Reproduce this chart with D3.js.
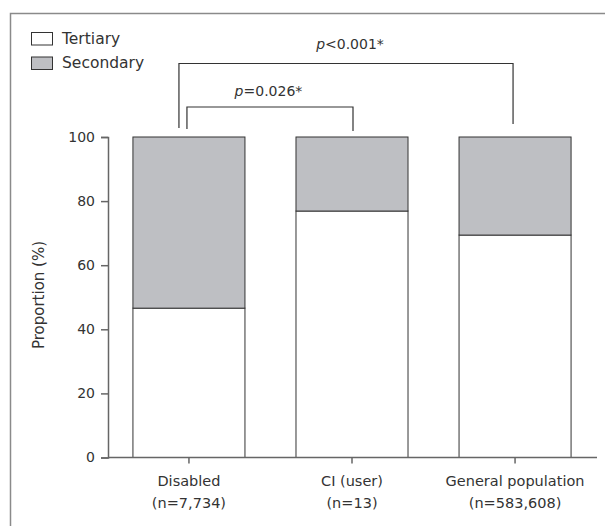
<!DOCTYPE html>
<html><head><meta charset="utf-8">
<script src="https://cdn.jsdelivr.net/npm/d3@7"></script>
<style>body{margin:0;background:#fff}svg{display:block}text{font-family:"DejaVu Sans",sans-serif;fill:#333}</style>
</head><body>
<svg id="c" width="605" height="526"></svg>
<script>
const categories = ["Disabled", "CI (user)", "General population"];
const sampleSizes = ["(n=7,734)", "(n=13)", "(n=583,608)"];
const tertiary = [46.6, 76.9, 69.4];
const secondary = [53.4, 23.1, 30.6];
const yTicks = [0, 20, 40, 60, 80, 100];
const seriesNames = ["Tertiary", "Secondary"];
const comparisons = [
  {from: 0, to: 1, label: "=0.026*", op: "p"},
  {from: 0, to: 2, label: "<0.001*", op: "p"}
];

const svg = d3.select("#c");
const fillColors = {Tertiary: "#ffffff", Secondary: "#bebfc3"};

// frame
svg.append("path").attr("d", "M10.5,530V13.5H610").attr("fill", "none").attr("stroke", "#8a8a8a").attr("stroke-width", 1.5);

const x = d3.scaleBand().domain(categories).range([107.5, 596.5]).paddingInner(0.313).paddingOuter(0.156);
const y = d3.scaleLinear().domain([0, 100]).range([457.5, 137]);

const data = categories.map((c, i) => ({cat: c, Tertiary: tertiary[i], Secondary: secondary[i]}));
const stack = d3.stack().keys(seriesNames)(data);

svg.append("g").selectAll("g").data(stack).join("g")
  .attr("fill", d => fillColors[d.key])
  .selectAll("rect").data(d => d).join("rect")
  .attr("x", d => x(d.data.cat))
  .attr("width", x.bandwidth())
  .attr("y", d => y(d[1]))
  .attr("height", d => y(d[0]) - y(d[1]))
  .attr("stroke", "#333").attr("stroke-width", 1);

// y axis
const ya = svg.append("g").attr("transform", "translate(108,0)")
  .call(d3.axisLeft(y).tickValues(yTicks).tickSize(7).tickPadding(6));
ya.selectAll("path,line").attr("stroke", "#666").attr("stroke-width", 1.5);
ya.selectAll("text").style("font-size", "14px").attr("fill", "#333").style("font-family", '"DejaVu Sans",sans-serif');

// x axis
const xa = svg.append("g").attr("transform", "translate(0,457.5)")
  .call(d3.axisBottom(x).tickSize(6).tickSizeOuter(0).tickFormat(() => ""));
xa.select("path").attr("d", "M108,0H597").attr("stroke", "#666").attr("stroke-width", 1.5);
xa.selectAll("line").attr("stroke", "#666").attr("stroke-width", 1.5);
categories.forEach((c, i) => {
  const t = svg.append("text").attr("x", x(c) + x.bandwidth() / 2).attr("text-anchor", "middle").style("font-size", "14.5px");
  t.append("tspan").attr("x", x(c) + x.bandwidth() / 2).attr("y", 486).text(c);
  t.append("tspan").attr("x", x(c) + x.bandwidth() / 2).attr("y", 508).text(sampleSizes[i]);
});

// y label
svg.append("text").attr("transform", "translate(44,295) rotate(-90)").attr("text-anchor", "middle")
  .style("font-size", "15px").text("Proportion (%)");

// brackets
const cx = c => x(categories[c]) + x.bandwidth() / 2;
const brackets = [
  {cmp: comparisons[0], x1: cx(comparisons[0].from) - 2, x2: cx(comparisons[0].to) + 1, top: 107, b1: 129, b2: 131, ty: 95.5, dx: -1.5},
  {cmp: comparisons[1], x1: cx(comparisons[1].from) - 10, x2: cx(comparisons[1].to) - 2, top: 63.5, b1: 128, b2: 124, ty: 48.5, dx: 4}
];
brackets.forEach(b => {
  svg.append("path").attr("d", `M${b.x1},${b.b1}V${b.top}H${b.x2}V${b.b2}`)
    .attr("fill", "none").attr("stroke", "#333").attr("stroke-width", 1.2);
  const t = svg.append("text").attr("x", (b.x1 + b.x2) / 2 + b.dx).attr("y", b.ty).attr("text-anchor", "middle").style("font-size", "14px");
  t.append("tspan").style("font-style", "italic").text(b.cmp.op);
  t.append("tspan").text(b.cmp.label);
});

// legend
seriesNames.forEach((s, i) => {
  svg.append("rect").attr("x", 31.5).attr("y", 32.5 + i * 24.5).attr("width", 21).attr("height", 12.5)
    .attr("fill", fillColors[s]).attr("stroke", "#333").attr("stroke-width", 1);
  svg.append("text").attr("x", 62).attr("y", 44.3 + i * 24).style("font-size", "15.5px").text(s);
});
</script>
</body></html>
